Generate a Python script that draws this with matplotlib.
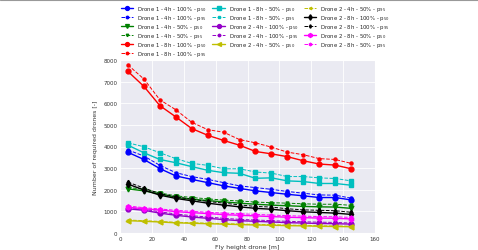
import matplotlib
matplotlib.use("Agg")
import matplotlib.pyplot as plt
import seaborn as sns
from matplotlib.lines import Line2D

# Fly heights (m)
heights = [5, 15, 25, 35, 45, 55, 65, 75, 85, 95, 105, 115, 125, 135, 145]

# Number of required drones per scenario
d1_4h_100_p50 = [3730, 3400, 2980, 2640, 2480, 2330, 2180, 2060, 1950, 1870, 1790, 1720, 1640, 1640, 1530]
d1_4h_100_p95 = [3840, 3560, 3130, 2790, 2610, 2480, 2330, 2180, 2100, 2020, 1920, 1840, 1760, 1750, 1610]
d1_4h_50_p50 = [2040, 1950, 1800, 1650, 1560, 1500, 1440, 1380, 1330, 1290, 1260, 1230, 1210, 1200, 1140]
d1_4h_50_p95 = [2100, 2030, 1850, 1720, 1640, 1580, 1520, 1480, 1430, 1400, 1380, 1350, 1330, 1330, 1280]
d1_8h_100_p50 = [7470, 6780, 5890, 5370, 4830, 4520, 4280, 4060, 3770, 3660, 3530, 3340, 3190, 3140, 2970]
d1_8h_100_p95 = [7770, 7120, 6160, 5700, 5120, 4780, 4660, 4320, 4170, 3970, 3740, 3620, 3440, 3400, 3220]
d1_8h_50_p50 = [4060, 3710, 3400, 3250, 3070, 2900, 2790, 2760, 2530, 2550, 2410, 2380, 2290, 2290, 2210]
d1_8h_50_p95 = [4170, 3990, 3710, 3440, 3220, 3130, 2970, 2970, 2820, 2770, 2610, 2610, 2550, 2520, 2410]
d2_4h_100_p50 = [1120, 1050, 920, 820, 740, 680, 620, 570, 540, 510, 480, 460, 440, 430, 410]
d2_4h_100_p95 = [1180, 1100, 980, 880, 800, 740, 680, 630, 600, 570, 540, 520, 500, 490, 460]
d2_4h_50_p50 = [570, 540, 510, 470, 450, 430, 410, 390, 370, 360, 340, 330, 310, 300, 290]
d2_4h_50_p95 = [600, 570, 535, 495, 475, 455, 435, 415, 395, 385, 365, 355, 335, 325, 315]
d2_8h_100_p50 = [2260, 1990, 1750, 1600, 1490, 1380, 1290, 1210, 1140, 1100, 1030, 980, 950, 920, 860]
d2_8h_100_p95 = [2350, 2080, 1820, 1680, 1560, 1460, 1380, 1300, 1230, 1200, 1120, 1070, 1050, 1030, 960]
d2_8h_50_p50 = [1190, 1120, 1060, 990, 940, 900, 850, 820, 790, 760, 730, 710, 690, 680, 650]
d2_8h_50_p95 = [1250, 1170, 1110, 1050, 1000, 960, 920, 890, 860, 830, 800, 780, 760, 750, 720]

series = [
    ("Drone 1 - 4h - 100% - p$_{50}$", d1_4h_100_p50, "#0000ff", "o", "-"),
    ("Drone 1 - 4h - 100% - p$_{95}$", d1_4h_100_p95, "#0000ff", "o", "--"),
    ("Drone 1 - 4h - 50% - p$_{50}$", d1_4h_50_p50, "#008000", "v", "-"),
    ("Drone 1 - 4h - 50% - p$_{95}$", d1_4h_50_p95, "#008000", "v", "--"),
    ("Drone 1 - 8h - 100% - p$_{50}$", d1_8h_100_p50, "#ff0000", "o", "-"),
    ("Drone 1 - 8h - 100% - p$_{95}$", d1_8h_100_p95, "#ff0000", "o", "--"),
    ("Drone 1 - 8h - 50% - p$_{50}$", d1_8h_50_p50, "#00bfbf", "s", "-"),
    ("Drone 1 - 8h - 50% - p$_{95}$", d1_8h_50_p95, "#00bfbf", "s", "--"),
    ("Drone 2 - 4h - 100% - p$_{50}$", d2_4h_100_p50, "#9400c8", "o", "-"),
    ("Drone 2 - 4h - 100% - p$_{95}$", d2_4h_100_p95, "#9400c8", "o", "--"),
    ("Drone 2 - 4h - 50% - p$_{50}$", d2_4h_50_p50, "#bfbf00", "<", "-"),
    ("Drone 2 - 4h - 50% - p$_{95}$", d2_4h_50_p95, "#bfbf00", "<", "--"),
    ("Drone 2 - 8h - 100% - p$_{50}$", d2_8h_100_p50, "#000000", "d", "-"),
    ("Drone 2 - 8h - 100% - p$_{95}$", d2_8h_100_p95, "#000000", "d", "--"),
    ("Drone 2 - 8h - 50% - p$_{50}$", d2_8h_50_p50, "#ff00ff", "h", "-"),
    ("Drone 2 - 8h - 50% - p$_{95}$", d2_8h_50_p95, "#ff00ff", "h", "--"),
]

sns.set_style("darkgrid")
plt.rcParams['font.family'] = ['DejaVu Sans']

fig = plt.figure(figsize=(4.78, 2.51), dpi=100)
ax = fig.add_axes([120 / 478, 1 - 234 / 251, 255 / 478, 173 / 251])

for label, values, color, marker, style in series:
    if style == "-":
        ax.plot(heights, values, color=color, marker=marker, linestyle=style,
                linewidth=1.0, markersize=3.5, label=label)
    else:
        ax.plot(heights, values, color=color, marker=marker, linestyle=style,
                linewidth=0.7, markersize=2.2, label=label)

ax.set_xlim(0, 160)
ax.set_ylim(0, 8000)
ax.set_xticks(range(0, 161, 20))
ax.set_yticks(range(0, 8001, 1000))
ax.tick_params(labelsize=4, colors="#333333", pad=2, length=0)
for gl in ax.get_xgridlines() + ax.get_ygridlines():
    gl.set_linewidth(0.6)
ax.set_xlabel("Fly height drone [m]", fontsize=4.5, color="#333333", labelpad=2)
ax.set_ylabel("Number of required drones [-]", fontsize=4.5, color="#333333", labelpad=4)

handles, labels = ax.get_legend_handles_labels()
fig.legend(handles, labels, loc="upper left", bbox_to_anchor=(121 / 478, 1 - 5 / 251),
           ncol=3, fontsize=3.9, frameon=False, handlelength=2.3, handletextpad=0.7,
           columnspacing=1.0, labelspacing=0.0, borderaxespad=0, borderpad=0,
           markerscale=0.8)

# thin frame line along the top of the image
fig.add_artist(Line2D([0, 1], [0.996, 0.996], transform=fig.transFigure,
                      color="#999999", linewidth=0.8))

fig.savefig("out.png", dpi=100)
